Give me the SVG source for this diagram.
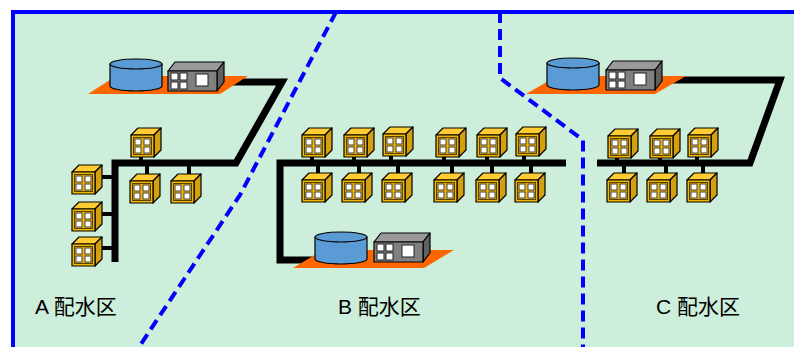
<svg xmlns="http://www.w3.org/2000/svg" xmlns:xlink="http://www.w3.org/1999/xlink" width="794" height="347" viewBox="0 0 794 347">
  <style>
    .edge{stroke:#000;stroke-linejoin:miter;fill:none}
    .main{stroke-width:7}
    .stub{stroke-width:4}
    .zone{stroke:#0000FF;stroke-width:4;fill:none;stroke-dasharray:11 6}
    .lbl{font-family:"Liberation Sans","Noto Sans CJK JP",sans-serif;font-size:21px;fill:#000}
    .ol{stroke:#000;stroke-width:1.2;stroke-linejoin:round}
  </style>
  <defs>
    <!-- house: front face origin at top-left -->
    <g id="house">
      <polygon class="ol" points="0,0 7,-7 30,-7 23,0" fill="#FFCC33"/>
      <polygon class="ol" points="23,0 30,-7 30,15 23,22" fill="#D4A010"/>
      <rect class="ol" x="0" y="0" width="23" height="22" fill="#F2B705"/>
      <rect x="2.5" y="2.5" width="18" height="17" fill="none" stroke="#5a4500" stroke-width="1"/>
      <g fill="#fff" stroke="#444" stroke-width="1">
        <rect x="4" y="4" width="6" height="6"/>
        <rect x="13" y="4" width="6" height="6"/>
        <rect x="4" y="12" width="6" height="6"/>
        <rect x="13" y="12" width="6" height="6"/>
      </g>
    </g>
    <!-- pump house -->
    <g id="pump">
      <polygon class="ol" points="0,0 7,-9 56,-9 49,0" fill="#9A9A9A"/>
      <polygon class="ol" points="49,0 56,-9 56,11 49,20" fill="#606060"/>
      <rect class="ol" x="0" y="0" width="49" height="20" fill="#808080"/>
      <g fill="#fff" stroke="#222" stroke-width="1">
        <rect x="3" y="2" width="7" height="7"/>
        <rect x="12" y="2" width="7" height="7"/>
        <rect x="3" y="11" width="7" height="7"/>
        <rect x="12" y="11" width="7" height="7"/>
        <rect x="28" y="3" width="12" height="12"/>
      </g>
    </g>
    <!-- reservoir tank: centre of top ellipse at origin -->
    <g id="tank">
      <path class="ol" d="M-26,0 V22 A26,5 0 0 0 26,22 V0 Z" fill="#5B9BD5"/>
      <ellipse class="ol" cx="0" cy="0" rx="26" ry="5" fill="#5B9BD5"/>
    </g>
  </defs>

  <!-- background and service-area frame -->
  <rect x="0" y="0" width="794" height="347" fill="#fff"/>
  <rect x="13" y="12" width="781" height="335" fill="#CCEEDA"/>
  <path d="M13,347 V12 H794" stroke="#0000FF" stroke-width="4" fill="none"/>

  <!-- zone boundaries -->
  <polyline class="zone" points="336,12 240,195 139,347"/>
  <polyline class="zone" points="500,12 500,78 583,140 583,347"/>

  <!-- connectors -->
  <g id="connectors">
    <polyline class="edge main" points="215,82 282,82 236,163 115,163 115,262"/>
    <polyline class="edge main" points="566,163 280,163 280,260 320,260"/>
    <polyline class="edge main" points="660,80 780,80 750,163 597,163"/>
    <g class="edge stub">
      <line x1="141" y1="156" x2="141" y2="163"/>
      <line x1="147" y1="163" x2="147" y2="176"/>
      <line x1="189" y1="163" x2="189" y2="176"/>
      <line x1="100" y1="177" x2="115" y2="177"/>
      <line x1="100" y1="214" x2="115" y2="214"/>
      <line x1="100" y1="248" x2="115" y2="248"/>

      <line x1="312" y1="156" x2="312" y2="163"/>
      <line x1="354" y1="156" x2="354" y2="163"/>
      <line x1="391" y1="156" x2="391" y2="163"/>
      <line x1="444" y1="156" x2="444" y2="163"/>
      <line x1="487" y1="156" x2="487" y2="163"/>
      <line x1="524" y1="156" x2="524" y2="163"/>
      <line x1="318" y1="163" x2="318" y2="176"/>
      <line x1="359" y1="163" x2="359" y2="176"/>
      <line x1="398" y1="163" x2="398" y2="176"/>
      <line x1="452" y1="163" x2="452" y2="176"/>
      <line x1="492" y1="163" x2="492" y2="176"/>
      <line x1="531" y1="163" x2="531" y2="176"/>

      <line x1="617" y1="156" x2="617" y2="163"/>
      <line x1="660" y1="156" x2="660" y2="163"/>
      <line x1="697" y1="156" x2="697" y2="163"/>
      <line x1="624" y1="163" x2="624" y2="176"/>
      <line x1="666" y1="163" x2="666" y2="176"/>
      <line x1="703" y1="163" x2="703" y2="176"/>
    </g>
  </g>

  <!-- water stations -->
  <g id="station-a">
    <polygon points="88,94 116,76 248,76 220,94" fill="#FF6600"/>
    <use xlink:href="#tank" x="136" y="64"/>
    <use xlink:href="#pump" x="168" y="71"/>
  </g>
  <g id="station-b">
    <polygon points="293,268 323,250 454,250 424,268" fill="#FF6600"/>
    <use xlink:href="#tank" x="341" y="237"/>
    <use xlink:href="#pump" x="374" y="242"/>
  </g>
  <g id="station-c">
    <polygon points="526,94 557,76 686,76 655,94" fill="#FF6600"/>
    <use xlink:href="#tank" x="573" y="63"/>
    <use xlink:href="#pump" x="606" y="70"/>
  </g>

  <!-- houses, zone A -->
  <g id="houses-a">
    <use xlink:href="#house" x="131" y="135"/>
    <use xlink:href="#house" x="130" y="181"/>
    <use xlink:href="#house" x="171" y="181"/>
    <use xlink:href="#house" x="72" y="172"/>
    <use xlink:href="#house" x="72" y="209"/>
    <use xlink:href="#house" x="72" y="244"/>
  </g>
  <!-- houses, zone B -->
  <g id="houses-b">
    <use xlink:href="#house" x="302" y="135"/>
    <use xlink:href="#house" x="344" y="135"/>
    <use xlink:href="#house" x="383" y="134"/>
    <use xlink:href="#house" x="436" y="135"/>
    <use xlink:href="#house" x="477" y="135"/>
    <use xlink:href="#house" x="516" y="134"/>
    <use xlink:href="#house" x="302" y="180"/>
    <use xlink:href="#house" x="342" y="180"/>
    <use xlink:href="#house" x="382" y="180"/>
    <use xlink:href="#house" x="434" y="180"/>
    <use xlink:href="#house" x="476" y="180"/>
    <use xlink:href="#house" x="515" y="180"/>
  </g>
  <!-- houses, zone C -->
  <g id="houses-c">
    <use xlink:href="#house" x="608" y="136"/>
    <use xlink:href="#house" x="650" y="136"/>
    <use xlink:href="#house" x="688" y="135"/>
    <use xlink:href="#house" x="607" y="180"/>
    <use xlink:href="#house" x="647" y="180"/>
    <use xlink:href="#house" x="687" y="180"/>
  </g>

  <!-- zone labels -->
  <g id="label-a"><text class="lbl" x="35" y="314">A 配水区</text></g>
  <g id="label-b"><text class="lbl" x="338" y="314">B 配水区</text></g>
  <g id="label-c"><text class="lbl" x="656" y="314">C 配水区</text></g>
</svg>
